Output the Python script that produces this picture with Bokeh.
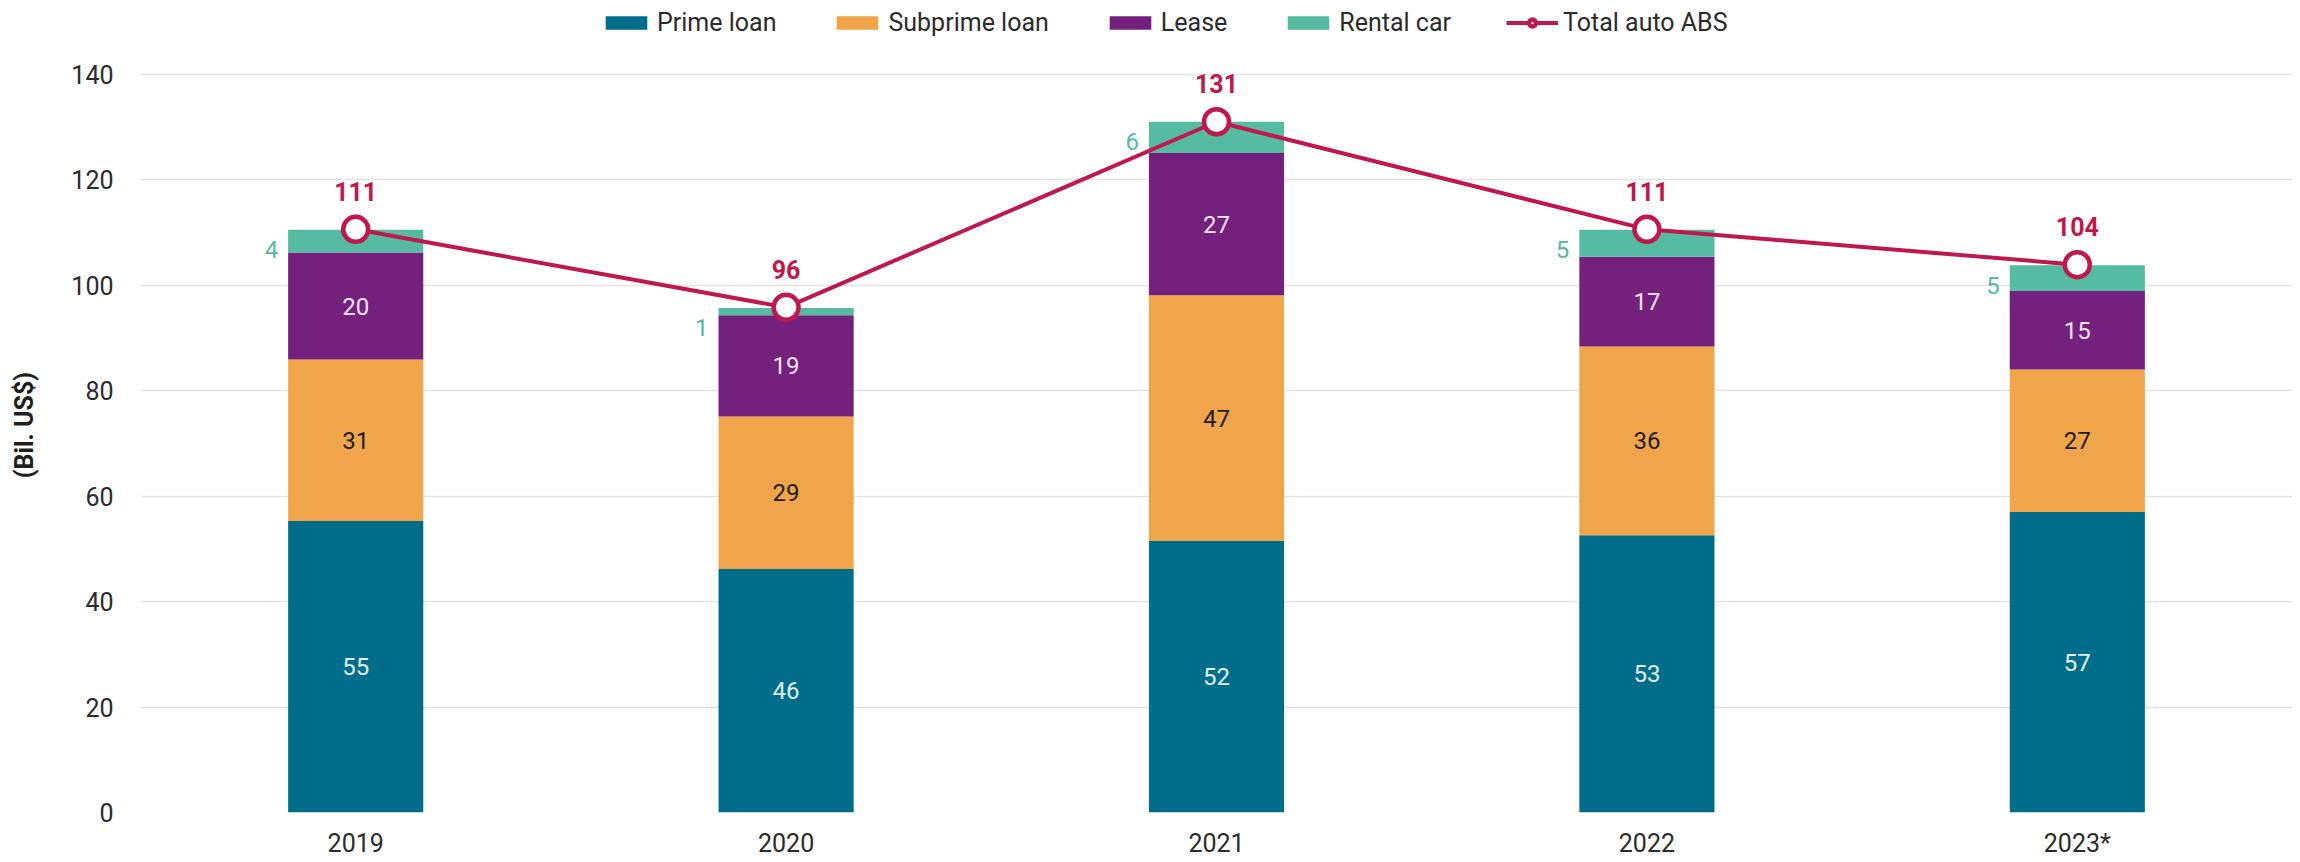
import numpy as np
from bokeh.plotting import figure
from bokeh.models import (ColumnDataSource, FactorRange, Range1d, FixedTicker,
                          Legend, LegendItem)
from bokeh.core.properties import value
from bokeh.embed import file_html
from bokeh.resources import INLINE

# ---- data ----
years = ["2019", "2020", "2021", "2022", "2023*"]
prime = [55.3, 46.2, 51.5, 52.6, 57.0]
subprime = [30.6, 28.9, 46.6, 35.8, 27.0]
lease = [20.3, 19.2, 27.0, 17.0, 14.9]
rental = [4.3, 1.4, 5.9, 5.1, 4.9]
total = [110.6, 95.8, 131.0, 110.6, 103.9]
y_ticks = [0, 20, 40, 60, 80, 100, 120, 140]

series = ["prime", "subprime", "lease", "rental"]
names = ["Prime loan", "Subprime loan", "Lease", "Rental car"]
colors = ["#006E8A", "#F0A54A", "#74207D", "#55BCA1"]
label_colors = ["#E2EEF2", "#1E1E1E", "#F1E3F2", "#55BCA1"]

FONT = "Roboto"
TXT = "#2B2B2B"
LINE_COLOR = "#C0184C"

src = ColumnDataSource(dict(years=years, prime=prime, subprime=subprime,
                            lease=lease, rental=rental, total=total))

# frame spans from the canvas top to the baseline; the headroom above 140 holds the legend
p = figure(x_range=FactorRange(factors=years), y_range=Range1d(0, 154.0),
           width=2292, height=860, output_backend="svg", toolbar_location=None,
           min_border_left=140, min_border_right=0, min_border_top=0,
           min_border_bottom=30)
p.outline_line_color = None
p.background_fill_color = "white"

bars = p.vbar_stack(series, x="years", width=0.314, source=src,
                    color=colors, line_color=None)

# segment labels
vals = np.array([prime, subprime, lease, rental])
cum = np.cumsum(vals, axis=0)
bottoms = cum - vals
for i in range(3):
    mids = (bottoms[i] + cum[i]) / 2
    ls = ColumnDataSource(dict(x=years, y=list(mids),
                               t=[f"{v:.0f}" for v in vals[i]]))
    p.text(x="x", y="y", text="t", source=ls, text_align="center",
           text_baseline="middle", text_color=label_colors[i],
           text_font=value(FONT), text_font_size="24px")

# rental labels to the left of the bar
rs = ColumnDataSource(dict(x=[(y, -0.157) for y in years], y=list(cum[3]),
                           t=[f"{v:.0f}" for v in rental]))
p.text(x="x", y="y", text="t", source=rs, text_align="right",
       text_baseline="middle", x_offset=-10, y_offset=20,
       text_color=label_colors[3], text_font=value(FONT), text_font_size="24px")

# total line
ln = p.line(x="years", y="total", source=src, line_color=LINE_COLOR, line_width=4)
sc = p.scatter(x="years", y="total", source=src, size=25, fill_color="white",
               line_color=LINE_COLOR, line_width=4.5)
ts = ColumnDataSource(dict(x=years, y=total, t=[f"{v:.0f}" for v in total]))
p.text(x="x", y="y", text="t", source=ts, text_align="center",
       text_baseline="middle", y_offset=-38, text_color=LINE_COLOR,
       text_font=value(FONT), text_font_size="25px", text_font_style="bold")

# axes
p.yaxis.ticker = FixedTicker(ticks=y_ticks)
for ax in (p.xaxis[0], p.yaxis[0]):
    ax.axis_line_color = None
    ax.major_tick_line_color = None
    ax.minor_tick_line_color = None
    ax.major_tick_out = 0
    ax.major_tick_in = 0
    ax.minor_tick_out = 0
    ax.major_label_text_font = FONT
    ax.major_label_text_font_size = "25px"
    ax.major_label_text_color = TXT
p.yaxis.major_label_standoff = 27
p.xaxis.major_label_standoff = 16
p.yaxis.axis_label = "(Bil. US$)" + "\u00a0" * 6
p.yaxis.axis_label_text_font = FONT
p.yaxis.axis_label_text_font_size = "25px"
p.yaxis.axis_label_text_font_style = "bold"
p.yaxis.axis_label_text_color = "#1E1E1E"
p.yaxis.axis_label_standoff = 29
p.xgrid.grid_line_color = None
p.ygrid.grid_line_color = "#E4E4E4"
p.ygrid.grid_line_width = 1.5

# legend
items = [LegendItem(label=names[i], renderers=[bars[i]]) for i in range(4)]
items.append(LegendItem(label="Total auto ABS", renderers=[ln, sc]))
legend = Legend(items=items, orientation="horizontal", location=(460, 775),
                glyph_width=52, glyph_height=17, label_text_font=FONT,
                label_text_font_size="25px", label_text_color=TXT,
                label_standoff=5, spacing=55, padding=0, margin=0,
                border_line_color=None, background_fill_alpha=0)
p.add_layout(legend, "center")

open("out.html", "w").write(file_html(p, INLINE))
